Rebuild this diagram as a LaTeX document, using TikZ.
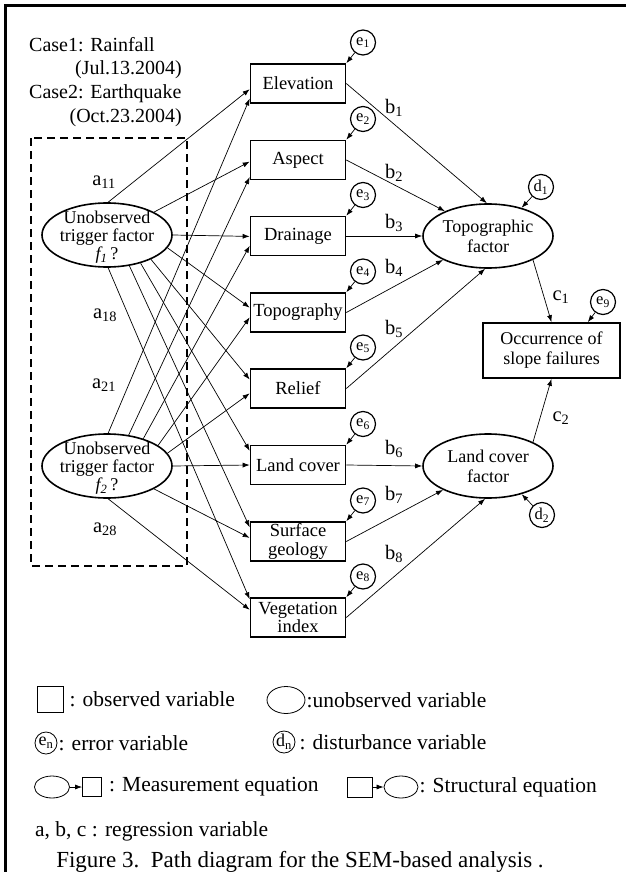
\documentclass[tikz,border=0pt]{standalone}
\usepackage{fontspec}
\setmainfont{Liberation Serif}
\usetikzlibrary{arrows.meta,calc,shapes.geometric}
\begin{document}
\begin{tikzpicture}[x=1pt,y=-1pt,
 obs/.style={draw,line width=1.6pt,minimum width=95pt,minimum height=39pt,inner sep=0pt,align=center,font=\fontsize{18.5}{18.5}\selectfont},
 lat/.style={draw,ellipse,line width=1.6pt,minimum width=130pt,minimum height=64pt,inner sep=0pt,align=center,font=\fontsize{18}{20}\selectfont},
 lattext/.style={inner sep=0pt,align=center,font=\fontsize{18}{18}\selectfont},
 err/.style={draw,circle,line width=1.2pt,minimum size=25pt,inner sep=0pt,font=\fontsize{16.5}{16.5}\selectfont},
 arr/.style={line width=0.7pt,-{Latex[length=7pt,width=5pt]}},
 coef/.style={font=\fontsize{20.5}{20.5}\selectfont,inner sep=0pt},
 txt/.style={font=\fontsize{20}{21}\selectfont,inner sep=0pt},
 leg/.style={font=\fontsize{21.5}{22}\selectfont,inner sep=0pt},
 legshape/.style={draw,line width=0.8pt,inner sep=0pt},
]
\useasboundingbox (0,0) rectangle (626,872);
% frame
\draw[line width=2.2pt] (5.5,872) -- (5.5,5.5) -- (626,5.5);

% case text
\node[txt,anchor=west] (c1t) at (29,45) {Case1: Rainfall};
\node[txt,anchor=east] (c1d) at (182,70) {(Jul.13.2004)};
\node[txt,anchor=west] (c2t) at (29,94) {Case2: Earthquake};
\node[txt,anchor=east] (c2d) at (182,118) {(Oct.23.2004)};

% dashed box
\draw[line width=2.4pt,dash pattern=on 8pt off 5pt] (31,138) rectangle (187,566);

% observed boxes
\node[obs] (elev) at (298,83.5) {Elevation};
\node[obs] (asp) at (298,160) {Aspect};
\node[obs] (drain) at (298,236) {Drainage};
\node[obs] (topog) at (298,312.5) {Topography};
\node[obs] (relief) at (298,388.5) {Relief};
\node[obs] (land) at (298,465) {Land cover};
\node[obs] (surf) at (298,541.5) {Surface\\geology};
\node[obs] (veg) at (298,617.5) {Vegetation\\index};

% latent
\node[lat] (f1) at (107,235) {};
\node[lattext] (f1t) at (107,237.5) {Unobserved\\trigger factor\\{\itshape f\textsubscript{1}}\,?};
\node[lat] (f2) at (107,466) {};
\node[lattext] (f2t) at (107,468.5) {Unobserved\\trigger factor\\{\itshape f\textsubscript{2}}\,?};
\node[lat] (topo) at (488,236) {Topographic\\factor};
\node[lat] (lcf) at (488,466) {Land cover\\factor};
\node[obs,minimum width=137pt,minimum height=55pt,font=\fontsize{18}{20}\selectfont] (occ) at (551.5,350.5) {Occurrence of\\slope failures};

% errors
\node[err] (e1) at (363,42.5) {e\textsubscript{1}};
\node[err] (e2) at (363,119) {e\textsubscript{2}};
\node[err] (e3) at (363,195) {e\textsubscript{3}};
\node[err] (e4) at (363,271.5) {e\textsubscript{4}};
\node[err] (e5) at (363,347.5) {e\textsubscript{5}};
\node[err] (e6) at (363,424) {e\textsubscript{6}};
\node[err] (e7) at (363,500.5) {e\textsubscript{7}};
\node[err] (e8) at (363,576.5) {e\textsubscript{8}};
\node[err] (e9) at (603,302) {e\textsubscript{9}};
\node[err] (d1) at (541,187) {d\textsubscript{1}};
\node[err] (d2) at (542,515) {d\textsubscript{2}};

\foreach \e/\b in {e1/elev,e2/asp,e3/drain,e4/topog,e5/relief,e6/land,e7/surf,e8/veg}
  \draw[arr] (\e) -- (\b.north east);
\draw[arr] (e9) -- ([xshift=-33pt]occ.north east);
\draw[arr] (d1) -- (topo.40);
\draw[arr] (d2) -- (lcf.-40);

% measurement arrows
\foreach \a/\b/\t in {88/elev/0.64, 26/asp/0.54, 0/drain/0.51, -12/topog/0.38, -29/relief/0.28, -40/land/0.15, -54/surf/0.15, -88/veg/0.05}
  \draw[arr] (f1.\a) -- ($(\b.north west)!\t!(\b.south west)$);
\foreach \a/\b/\t in {88/elev/0.87, 55/asp/0.92, 37/drain/0.74, 22/topog/0.62, 12/relief/0.62, 0/land/0.5, -26/surf/0.41, -88/veg/0.31}
  \draw[arr] (f2.\a) -- ($(\b.north west)!\t!(\b.south west)$);

% structural arrows
\draw[arr] (elev.east) -- (topo.92);
\draw[arr] (asp.east) -- (topo.150);
\draw[arr] (drain.east) -- (topo.west);
\draw[arr] (topog.east) -- (topo.208);
\draw[arr] (relief.east) -- (topo.265);
\draw[arr] (land.east) -- (lcf.west);
\draw[arr] (surf.east) -- (lcf.208);
\draw[arr] (veg.east) -- (lcf.265);
\draw[arr] (topo.-28) -- (occ.north);
\draw[arr] (lcf.28) -- (occ.south);

% coefficient labels
\node[coef] (a11) at (104,182) {a\textsubscript{11}};
\node[coef] (a18) at (105,315) {a\textsubscript{18}};
\node[coef] (a21) at (104,385) {a\textsubscript{21}};
\node[coef] (a28) at (105,529) {a\textsubscript{28}};
\node[coef] (b1) at (394,108) {b\textsubscript{1}};
\node[coef] (b2) at (394,173) {b\textsubscript{2}};
\node[coef] (b3) at (394,223) {b\textsubscript{3}};
\node[coef] (b4) at (394,268) {b\textsubscript{4}};
\node[coef] (b5) at (394,329) {b\textsubscript{5}};
\node[coef] (b6) at (394,449) {b\textsubscript{6}};
\node[coef] (b7) at (394,495) {b\textsubscript{7}};
\node[coef] (b8) at (394,554) {b\textsubscript{8}};
\node[coef] (cc1) at (561,297) {c\textsubscript{1}};
\node[coef] (cc2) at (561,418) {c\textsubscript{2}};

% legend
\node[legshape,minimum width=26pt,minimum height=26pt] (lobs) at (50,699) {};
\node[leg,anchor=west] (tobs) at ([xshift=6pt]lobs.east) {: observed variable};
\node[legshape,ellipse,minimum width=38pt,minimum height=27pt] (lun) at (286,700) {};
\node[leg,anchor=west] (tun) at ([xshift=1pt]lun.east) {:unobserved variable};
\node[legshape,circle,minimum size=22pt,font=\fontsize{18}{18}\selectfont] (len) at (46,743) {e\textsubscript{n}};
\node[leg,anchor=west] (ten) at ([xshift=1pt]len.east) {: error variable};
\node[legshape,circle,minimum size=22pt,font=\fontsize{18}{18}\selectfont] (ldn) at (284,742) {d\textsubscript{n}};
\node[leg,anchor=west] (tdn) at ([xshift=4pt]ldn.east) {: disturbance variable};
\node[legshape,ellipse,minimum width=35pt,minimum height=22pt] (lm1) at (52,787) {};
\node[legshape,minimum width=19pt,minimum height=19pt] (lm2) at (92,787) {};
\draw[arr] (lm1) -- (lm2);
\node[leg,anchor=west] (tm) at ([xshift=7pt]lm2.east) {: Measurement equation};
\node[legshape,minimum width=25pt,minimum height=20pt] (ls1) at (360,787) {};
\node[legshape,ellipse,minimum width=34pt,minimum height=22pt] (ls2) at (401,787) {};
\draw[arr] (ls1) -- (ls2);
\node[leg,anchor=west] (ts) at ([xshift=1pt]ls2.east) {: Structural equation};
\node[leg,anchor=west] (treg) at (35,831) {a, b, c : regression variable};
\node[font=\fontsize{23}{24}\selectfont,inner sep=0pt] (cap) at (300,862) {Figure 3.\ \ Path diagram for the SEM-based analysis .};
\end{tikzpicture}
\end{document}
